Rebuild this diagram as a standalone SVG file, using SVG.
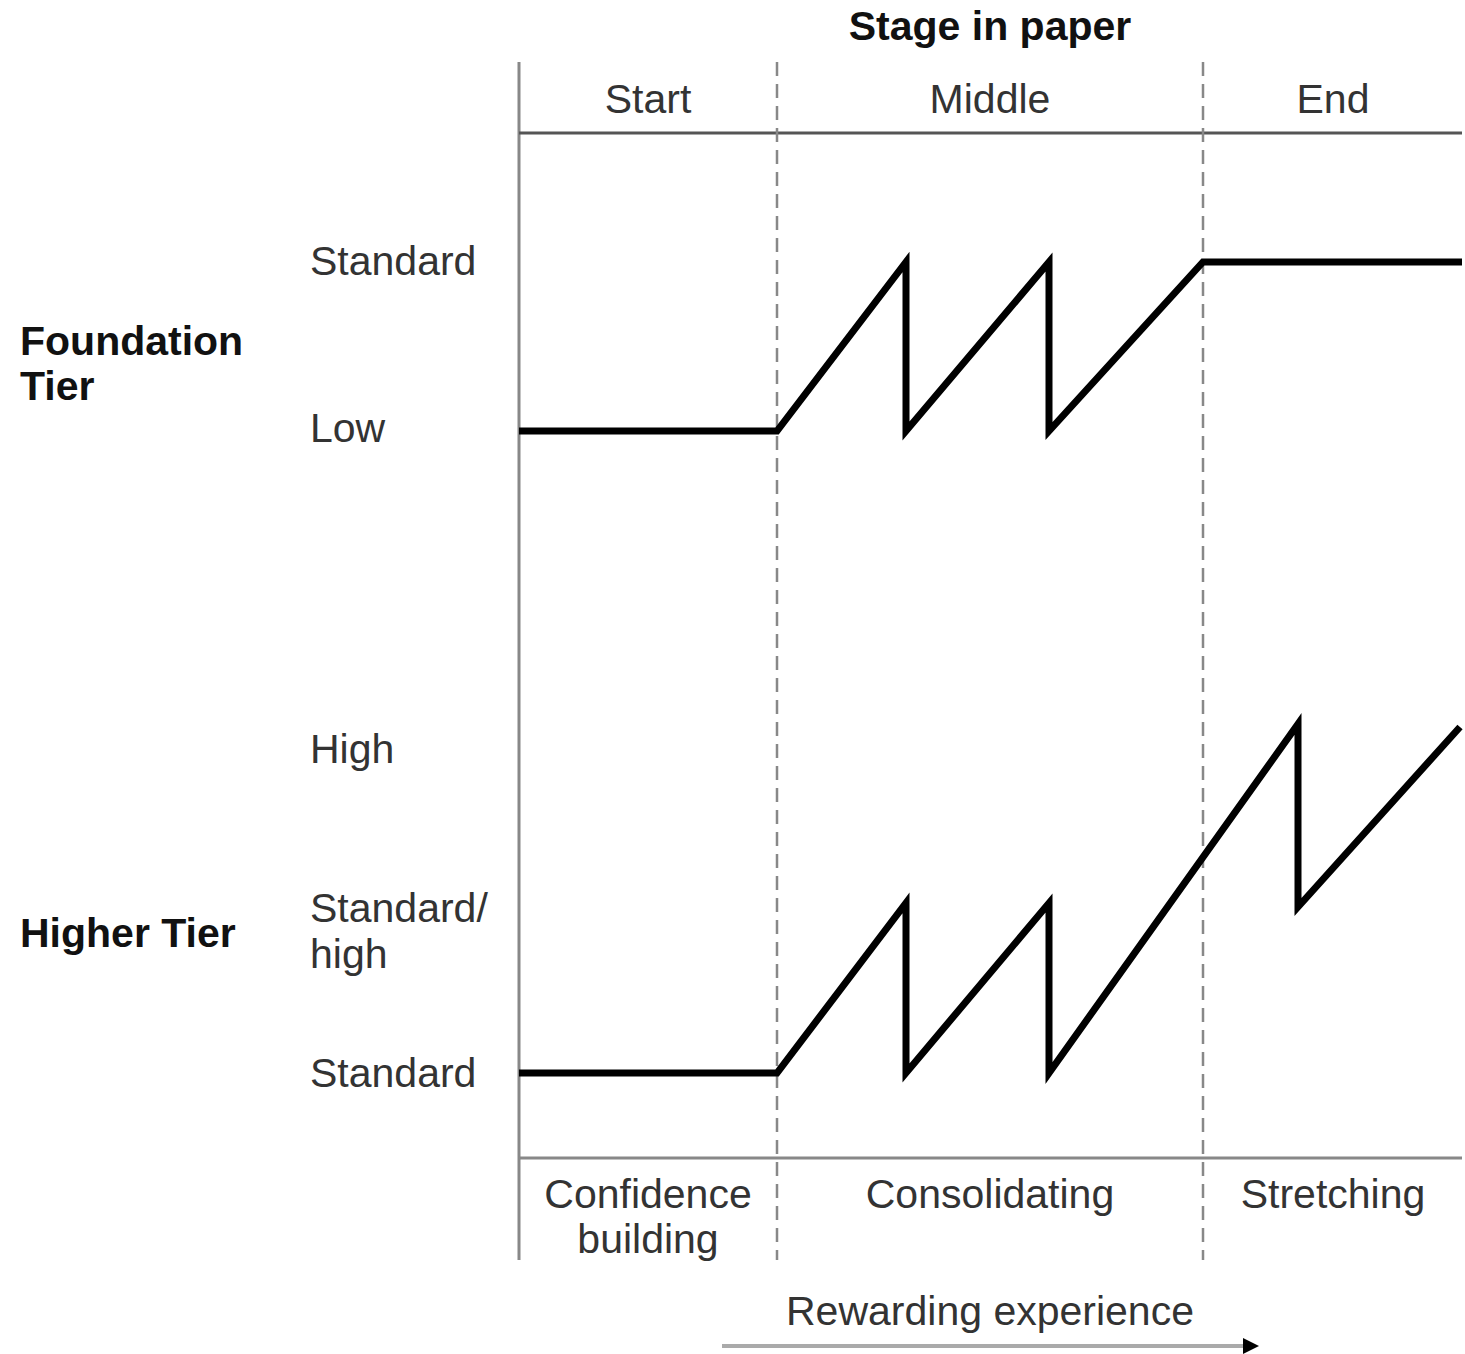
<svg xmlns="http://www.w3.org/2000/svg" width="1465" height="1354" viewBox="0 0 1465 1354">
<style>
.t{font-family:"Liberation Sans",Arial,sans-serif;font-size:41px;fill:#333}
.b{font-family:"Liberation Sans",Arial,sans-serif;font-size:41px;font-weight:bold;fill:#111}
.m{text-anchor:middle}
.axis{stroke:#888;stroke-width:3;fill:none}
.rule{stroke:#555;stroke-width:3;fill:none}
.dash{stroke:#888;stroke-width:2.5;stroke-dasharray:14,8;fill:none}
.zig{stroke:#000;stroke-width:7;fill:none;stroke-linejoin:miter}
</style>
<defs>
<marker id="ah" markerWidth="4" markerHeight="4" refX="1" refY="2" orient="auto" markerUnits="strokeWidth">
<path d="M0,0 L4,2 L0,4 z" fill="#000"/>
</marker>
</defs>
<rect width="1465" height="1354" fill="#fff"/>
<g id="frame">
<line class="axis" x1="519" y1="62" x2="519" y2="1260"/>
<line class="rule" x1="519" y1="133" x2="1462" y2="133"/>
<line class="axis" x1="519" y1="1158" x2="1462" y2="1158"/>
<line class="dash" x1="777" y1="62" x2="777" y2="1260"/>
<line class="dash" x1="1203" y1="62" x2="1203" y2="1260"/>
</g>
<g id="header">
<text class="b m" x="990" y="40">Stage in paper</text>
<text class="t m" x="648" y="113">Start</text>
<text class="t m" x="990" y="113">Middle</text>
<text class="t m" x="1333" y="113">End</text>
</g>
<g id="foundation">
<text class="b" x="20" y="355">Foundation</text>
<text class="b" x="20" y="400">Tier</text>
<text class="t" x="310" y="275">Standard</text>
<text class="t" x="310" y="442">Low</text>
</g>
<g id="higher">
<text class="b" x="20" y="947">Higher Tier</text>
<text class="t" x="310" y="763">High</text>
<text class="t" x="310" y="922">Standard/</text>
<text class="t" x="310" y="968">high</text>
<text class="t" x="310" y="1087">Standard</text>
</g>
<g id="footer">
<text class="t m" x="648" y="1208">Confidence</text>
<text class="t m" x="648" y="1253">building</text>
<text class="t m" x="990" y="1208">Consolidating</text>
<text class="t m" x="1333" y="1208">Stretching</text>
<text class="t m" x="990" y="1325">Rewarding experience</text>
</g>
<g id="connectors">
<polyline class="zig" points="519,431 777,431 906,262 906,431 1049,262 1049,431 1203,262 1462,262"/>
<polyline class="zig" points="519,1073 777,1073 906,903 906,1073 1049,903 1049,1073 1298,724 1298,907 1460,727"/>
<line x1="722" y1="1346" x2="1247" y2="1346" stroke="#aaa" stroke-width="4" marker-end="url(#ah)"/>
</g>
</svg>
